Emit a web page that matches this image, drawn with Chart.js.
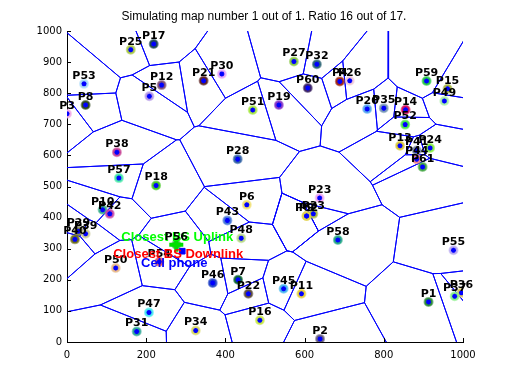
<!DOCTYPE html>
<html>
<head>
<meta charset="utf-8">
<script src="https://cdn.jsdelivr.net/npm/chart.js@4.4.1/dist/chart.umd.min.js"></script>
<style>
html, body { margin: 0; padding: 0; background: #fff; }
</style>
</head>
<body>
<canvas id="mapChart" width="512" height="384"></canvas>
<script>
// base stations
const stationNames = ['P1','P2','P3','P4','P5','P6','P7','P8','P9','P10',
  'P11','P12','P13','P14','P15','P16','P17','P18','P19','P20',
  'P21','P22','P23','P24','P25','P26','P27','P28','P29','P30',
  'P31','P32','P33','P34','P35','P36','P37','P38','P39','P40',
  'P41','P42','P43','P44','P45','P46','P47','P48','P49','P50',
  'P51','P52','P53','P54','P55','P56','P57','P58','P59','P60',
  'P61','P62'];
const stationX = [913, 639, 0, 689, 208, 454, 432, 47, 605, 90,
  592, 239, 841, 855, 961, 487, 219, 225, 535, 758,
  345, 458, 638, 917, 161, 714, 573, 431, 29, 391,
  176, 631, 622, 325, 800, 996, 979, 126, 47, 20,
  883, 108, 405, 883, 547, 368, 207, 440, 953, 123,
  469, 854, 43, 233, 976, 276, 131, 684, 908, 608,
  898, 605];
const stationY = [129, 10, 734, 838, 790, 441, 200, 762, 405, 425,
  155, 826, 631, 747, 814, 70, 958, 503, 762, 749,
  840, 155, 463, 624, 940, 840, 902, 588, 356, 862,
  34, 893, 412, 37, 752, 158, 147, 610, 348, 330,
  616, 412, 391, 588, 171, 190, 95, 334, 775, 238,
  746, 699, 830, 258, 295, 313, 527, 328, 839, 817,
  563, 405];
const stationColors = ['#2e8b3a','#6a6080','#f0a8e8','#a02818','#b498e8','#f0e070','#106838','#304a20','#e8d848','#40b090',
  '#e8d040','#805078','#d8c838','#d81060','#a8b848','#c8e848','#204858','#48c828','#8838c8','#58a8f0',
  '#602828','#605040','#f0a8f0','#88f048','#a8c848','#f0c8d8','#88c848','#3868a8','#909050','#e8a8f8',
  '#30a898','#306878','#a8b848','#d8d868','#7898b8','#d8c868','#88f088','#c84898','#c8c898','#707020',
  '#7888a8','#c848a8','#4878d8','#f08888','#48b8f0','#2848c8','#48e8f0','#b8d888','#a8f0a8','#e8b888',
  '#a8e848','#48e848','#a8d8f8','#e86060','#b8a8f0','#40c040','#48e8a8','#28a888','#28c848','#402868',
  '#48a848','#e0d050'];

// mobile and its closest station
const phoneX = [291];
const phoneY = [292];
const uplinkX = [276];
const uplinkY = [313];

const xTicks = [0, 200, 400, 600, 800, 1000];
const yTicks = [0, 100, 200, 300, 400, 500, 600, 700, 800, 900, 1000];
const titleText = 'Simulating map number 1 out of 1. Ratio 16 out of 17.';

// voronoi cells: big box clipped by every bisector
function clipHalf(poly, ax, ay, bx, by) {
  const mx = (ax + bx) / 2, my = (ay + by) / 2;
  const dx = bx - ax, dy = by - ay;
  const side = p => (p.x - mx) * dx + (p.y - my) * dy;
  const out = [];
  for (let k = 0; k < poly.length; k++) {
    const p = poly[k], q = poly[(k + 1) % poly.length];
    const sp = side(p), sq = side(q);
    if (sp <= 0) out.push(p);
    if ((sp <= 0) !== (sq <= 0)) {
      const t = sp / (sp - sq);
      out.push({x: p.x + t * (q.x - p.x), y: p.y + t * (q.y - p.y)});
    }
  }
  return out;
}

const cellSets = [];
for (let i = 0; i < stationX.length; i++) {
  let poly = [{x: -4000, y: -4000}, {x: 5000, y: -4000}, {x: 5000, y: 5000}, {x: -4000, y: 5000}];
  for (let j = 0; j < stationX.length; j++) {
    if (i === j) continue;
    poly = clipHalf(poly, stationX[i], stationY[i], stationX[j], stationY[j]);
    if (poly.length === 0) break;
  }
  if (poly.length) poly.push(poly[0]);
  cellSets.push({
    type: 'line',
    data: poly,
    borderColor: '#0000ff',
    borderWidth: 1,
    pointRadius: 0,
    fill: false,
    tension: 0,
    order: 10
  });
}

const stationPts = stationX.map((x, i) => ({x: x, y: stationY[i]}));

const labelPlugin = {
  id: 'labels',
  beforeDraw(chart) {
    const ctx = chart.ctx;
    ctx.save();
    ctx.fillStyle = '#fff';
    ctx.fillRect(0, 0, chart.width, chart.height);
    ctx.fillStyle = '#000';
    ctx.font = '12px "Liberation Sans", Arial, sans-serif';
    ctx.textAlign = 'center';
    ctx.textBaseline = 'middle';
    ctx.fillText(titleText, 264, 17);
    ctx.restore();
  },
  afterDatasetsDraw(chart) {
    const ctx = chart.ctx;
    const xs = chart.scales.x, ys = chart.scales.y;
    const area = chart.chartArea;
    ctx.save();
    // axis ticks pointing inward
    ctx.strokeStyle = '#000';
    ctx.lineWidth = 1;
    ctx.beginPath();
    xTicks.forEach(v => {
      const px = Math.round(xs.getPixelForValue(v)) + 0.5;
      ctx.moveTo(px, area.bottom);
      ctx.lineTo(px, area.bottom - 4);
    });
    yTicks.forEach(v => {
      const py = Math.round(ys.getPixelForValue(v)) + 0.5;
      ctx.moveTo(area.left, py);
      ctx.lineTo(area.left + 4, py);
    });
    ctx.stroke();

    const ux = xs.getPixelForValue(uplinkX[0]), uy = ys.getPixelForValue(uplinkY[0]);
    const cx = xs.getPixelForValue(phoneX[0]), cy = ys.getPixelForValue(phoneY[0]);
    ctx.font = 'bold 13px "Liberation Sans", Arial, sans-serif';
    ctx.textAlign = 'center';
    ctx.textBaseline = 'middle';
    ctx.fillStyle = '#00ff00';
    ctx.fillText('Closest BS Uplink', ux + 1, uy - 7);

    // station names
    ctx.font = 'bold 11px "DejaVu Sans", sans-serif';
    ctx.fillStyle = '#000';
    stationNames.forEach((n, i) => {
      const px = xs.getPixelForValue(stationX[i]);
      const py = ys.getPixelForValue(stationY[i]);
      ctx.fillText(n, px, py - 8);
    });

    ctx.font = 'bold 13px "Liberation Sans", Arial, sans-serif';
    ctx.fillStyle = '#ff0000';
    ctx.fillText('Closest BS Downlink', cx - 4, cy + 3);
    ctx.fillStyle = '#0000ff';
    ctx.fillText('Cell phone', cx - 8, cy + 12);
    ctx.restore();
  }
};

new Chart(document.getElementById('mapChart'), {
  type: 'scatter',
  data: {
    datasets: [
      {
        data: [{x: uplinkX[0], y: uplinkY[0]}],
        pointStyle: 'cross',
        pointRadius: 7,
        borderColor: '#00e000',
        pointBorderWidth: 4,
        order: 0
      },
      {
        data: [{x: phoneX[0], y: phoneY[0]}],
        pointStyle: 'rect',
        pointRadius: 4,
        backgroundColor: '#0000ff',
        borderColor: '#0000ff',
        order: 1
      },
      {
        data: stationPts,
        pointStyle: 'star',
        pointRadius: 2.5,
        borderColor: '#0000ff',
        pointBorderWidth: 1.5,
        order: 2
      },
      {
        data: stationPts,
        pointStyle: 'circle',
        pointRadius: 4,
        backgroundColor: stationColors,
        borderColor: stationColors.map(c => c + '99'),
        pointBorderWidth: 2,
        order: 3
      },
      ...cellSets
    ]
  },
  options: {
    responsive: false,
    animation: false,
    events: [],
    layout: { padding: { top: 31, right: 49, left: 0, bottom: 0 } },
    plugins: {
      legend: { display: false },
      tooltip: { enabled: false }
    },
    scales: {
      x: {
        type: 'linear',
        min: 0,
        max: 1000,
        afterBuildTicks: s => { s.ticks = xTicks.map(v => ({value: v})); },
        afterFit: s => { s.height = 42; },
        grid: { display: false, drawTicks: false },
        border: { display: true, color: '#000', width: 1 },
        ticks: {
          color: '#000',
          padding: 7,
          maxRotation: 0,
          callback: v => String(v),
          font: { family: '"DejaVu Sans", sans-serif', size: 10 }
        }
      },
      y: {
        type: 'linear',
        min: 0,
        max: 1000,
        afterBuildTicks: s => { s.ticks = yTicks.map(v => ({value: v})); },
        afterFit: s => { s.width = 67; },
        grid: { display: false, drawTicks: false },
        border: { display: true, color: '#000', width: 1 },
        ticks: {
          color: '#000',
          padding: 5,
          callback: v => String(v),
          font: { family: '"DejaVu Sans", sans-serif', size: 10 }
        }
      }
    }
  },
  plugins: [labelPlugin]
});
</script>
</body>
</html>
